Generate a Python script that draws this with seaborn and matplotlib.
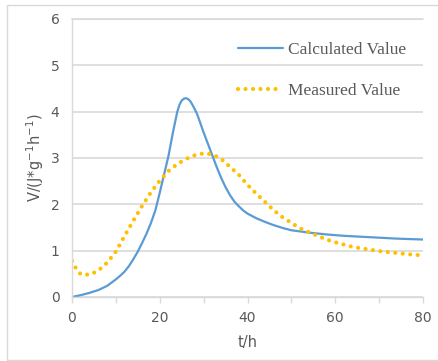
import numpy as np
import pandas as pd
import matplotlib
matplotlib.use("Agg")
import matplotlib.pyplot as plt
from matplotlib.patches import Rectangle
import seaborn as sns

# ==================================
# Data
# ==================================

calc_t = [0, 2, 4, 6, 8, 10, 11, 12, 13, 14, 15, 16, 17, 18, 19, 20, 21, 22, 23, 24,
          24.5, 25, 25.5, 26, 26.5, 27, 27.5, 28, 28.5, 29, 30, 31, 32, 33, 34, 35,
          36, 37, 38, 39, 40, 42, 44, 46, 48, 50, 54, 58, 62, 66, 70, 74, 80]
calc_v = [0.0, 0.04, 0.09, 0.15, 0.24, 0.38, 0.46, 0.55, 0.67, 0.82, 0.98, 1.17, 1.37,
          1.6, 1.87, 2.25, 2.65, 3.05, 3.55, 4.0, 4.15, 4.24, 4.28, 4.29, 4.27, 4.22,
          4.14, 4.05, 3.95, 3.82, 3.55, 3.3, 3.05, 2.8, 2.57, 2.37, 2.2, 2.06, 1.96,
          1.87, 1.8, 1.7, 1.62, 1.55, 1.49, 1.44, 1.39, 1.35, 1.32, 1.3, 1.28, 1.26, 1.24]

meas_t = [0, 1, 2, 4, 6, 8, 10, 12, 14, 16, 18, 20, 22, 24, 26, 28, 30, 32, 34, 36,
          38, 40, 42, 44, 46, 48, 50, 52, 54, 56, 58, 60, 62, 64, 66, 68, 70, 72, 74,
          76, 78, 80]
meas_v = [0.78, 0.6, 0.49, 0.48, 0.57, 0.74, 0.98, 1.32, 1.65, 1.97, 2.26, 2.51, 2.72,
          2.87, 2.98, 3.06, 3.10, 3.08, 2.98, 2.81, 2.64, 2.42, 2.23, 2.05, 1.87, 1.72,
          1.60, 1.48, 1.40, 1.32, 1.24, 1.18, 1.13, 1.08, 1.05, 1.02, 0.99, 0.97, 0.95,
          0.93, 0.91, 0.90]

calc_df = pd.DataFrame({"t": calc_t, "V": calc_v})
meas_df = pd.DataFrame({"t": meas_t, "V": meas_v})

# ==================================
# Plot
# ==================================

sns.set_style("white")
plt.rcParams['font.family'] = ['DejaVu Sans']

fig = plt.figure(figsize=(4.39, 3.61), dpi=100)
ax = fig.add_axes([0.164, 0.1773, 0.7996, 0.7701])

grey = "#595959"
grid = "#d9d9d9"

sns.lineplot(data=calc_df, x="t", y="V", ax=ax, color="#5B9BD5",
             linewidth=1.6, label="Calculated Value")
sns.lineplot(data=meas_df, x="t", y="V", ax=ax, color="#FFC000",
             linewidth=3.0, linestyle=(0, (0.001, 1.8)),
             dash_capstyle="round", label="Measured Value")

ax.set_xlim(0, 80)
ax.set_ylim(0, 6)
ax.set_xticks([0, 20, 40, 60, 80])
ax.set_xticks(np.arange(0, 81, 10), minor=True)
ax.set_yticks(range(0, 7))

ax.yaxis.grid(True, color=grid, linewidth=1.2)
ax.set_axisbelow(True)
# top gridline sits on the axes edge
ax.axhline(6, color=grid, linewidth=1.2, clip_on=False, zorder=0.5)
for side in ["top", "right"]:
    ax.spines[side].set_visible(False)
for side in ["left", "bottom"]:
    ax.spines[side].set_color(grid)
    ax.spines[side].set_linewidth(1.0)

ax.tick_params(axis="y", length=0, pad=9, labelsize=10, labelcolor=grey)
ax.tick_params(axis="x", which="both", length=4, width=1, color=grid,
               direction="out", bottom=True, pad=6, labelsize=10, labelcolor=grey)

ax.set_xlabel("t/h", fontsize=10.5, color=grey, labelpad=7)
ax.set_ylabel(r"V/(J*g$^{-1}$h$^{-1}$)", fontsize=10.5, color=grey, labelpad=3)

leg = ax.legend(loc="upper left", bbox_to_anchor=(0.473, 0.918), frameon=False,
                prop={"family": "Liberation Serif", "size": 12.5},
                handlelength=2.6, handletextpad=0.3, labelspacing=1.45,
                borderpad=0, borderaxespad=0)
for txt in leg.get_texts():
    txt.set_color(grey)

# light frame around the whole chart
fig.patches.append(Rectangle((7 / 439, 1 / 361), 1.0, 355 / 361,
                             transform=fig.transFigure, fill=False,
                             edgecolor=grid, linewidth=1.0))

fig.savefig("out.png", dpi=100)
